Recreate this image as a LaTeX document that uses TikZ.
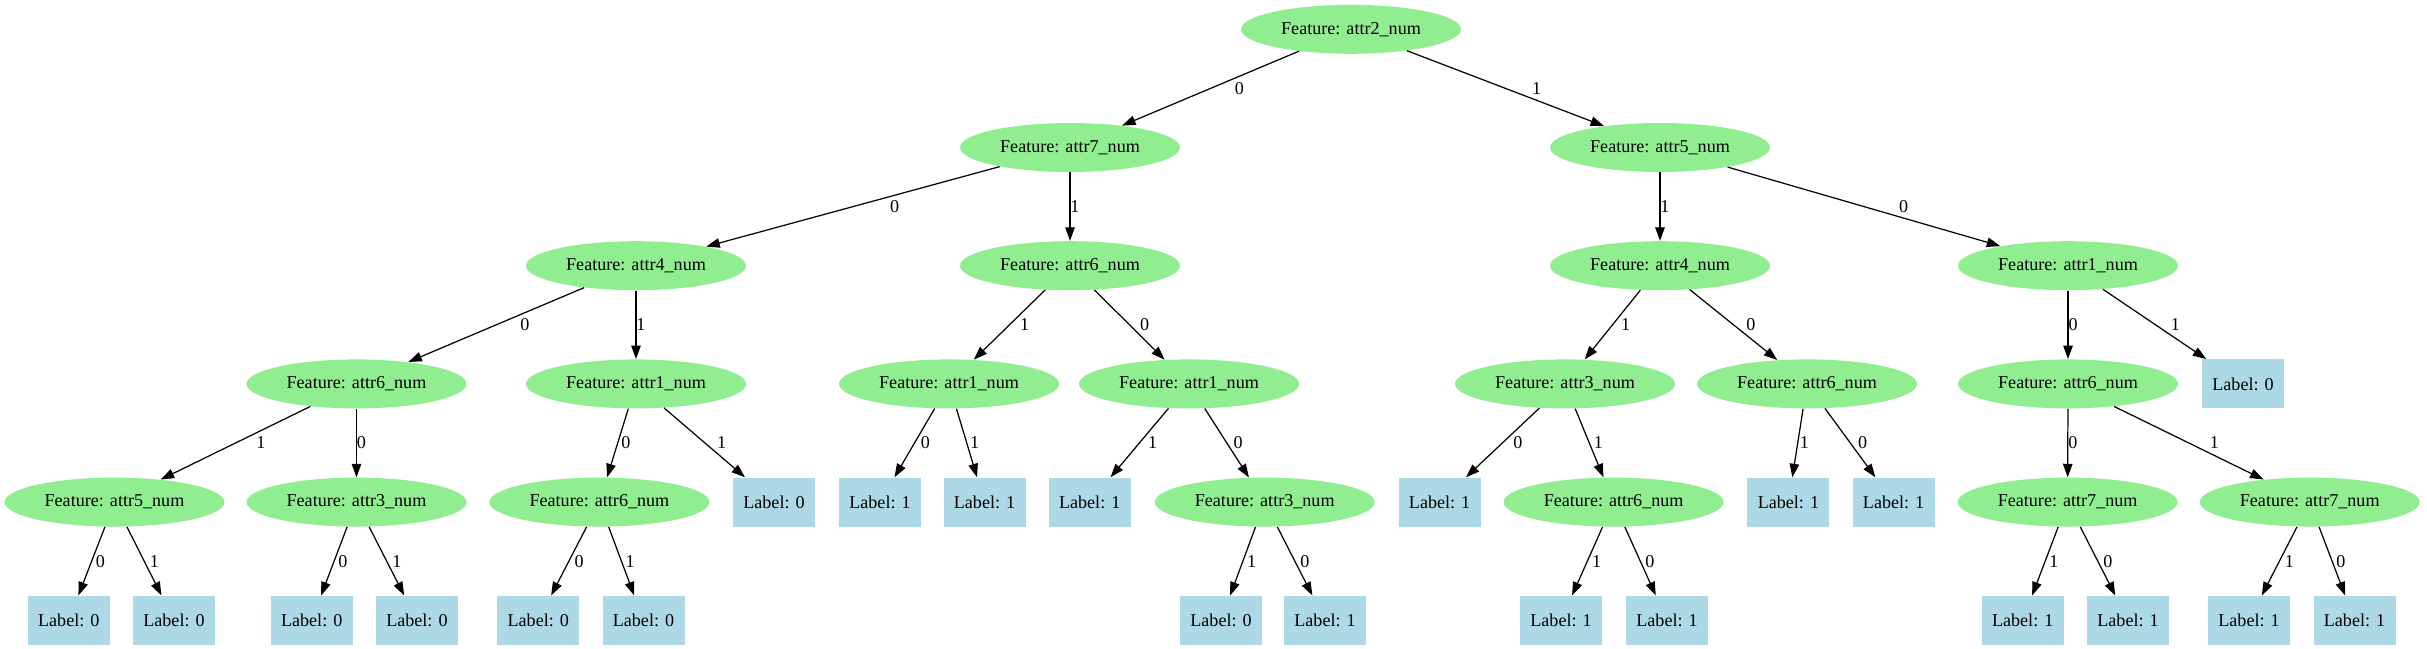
\documentclass[tikz,border=0pt]{standalone}
\usepackage{fontspec}
\setmainfont{Liberation Serif}
\usetikzlibrary{calc,arrows.meta,shapes.geometric}
\definecolor{featgreen}{HTML}{90EE90}
\definecolor{leafblue}{HTML}{ADD8E6}
\def\branch(#1)(#2)#3{\draw[edge] (#1) -- (#2); \path let \p1=(#1), \p2=(#2), \n1={abs(\x2-\x1)/abs(\y2-\y1)} in node[lbl] at ({0.5*\x1+0.5*\x2+\n1*0.2cm+0.1cm}, {0.5*\y1+0.5*\y2}) {#3};}

\begin{document}
\begin{tikzpicture}[x=0.02cm, y=-0.02cm,
	feat/.style={ellipse, fill=featgreen, minimum width=4.4cm, minimum height=0.98cm, inner sep=0pt, font=\fontsize{10.3}{12}\selectfont},
	leaf/.style={rectangle, fill=leafblue, minimum width=1.64cm, minimum height=0.98cm, inner sep=0pt, font=\fontsize{10.3}{12}\selectfont},
	lbl/.style={inner sep=0pt, font=\fontsize{10.3}{12}\selectfont},
	edge/.style={line width=0.7pt, -{Triangle[length=0.27cm, width=0.19cm]}}]
			%%%%% START %%%%%
			\useasboundingbox (0,0) rectangle (2427,649);
			
			\node[feat] (r) at (1351, 29.3) {Feature: attr2\_num};
			
			\node[feat] (n0) at (1070, 147.5) {Feature: attr7\_num};
			\node[feat] (n1) at (1660, 147.5) {Feature: attr5\_num};
			
			\node[feat] (n00) at (636, 265.7) {Feature: attr4\_num};
			\node[feat] (n01) at (1070, 265.7) {Feature: attr6\_num};
			\node[feat] (n11) at (1660, 265.7) {Feature: attr4\_num};
			\node[feat] (n10) at (2068, 265.7) {Feature: attr1\_num};
			
			\node[feat] (n000) at (356.5, 383.9) {Feature: attr6\_num};
			\node[feat] (n001) at (636, 383.9) {Feature: attr1\_num};
			\node[feat] (n011) at (949, 383.9) {Feature: attr1\_num};
			\node[feat] (n010) at (1189, 383.9) {Feature: attr1\_num};
			\node[feat] (n111) at (1565, 383.9) {Feature: attr3\_num};
			\node[feat] (n110) at (1807, 383.9) {Feature: attr6\_num};
			\node[feat] (n100) at (2068, 383.9) {Feature: attr6\_num};
			\node[leaf] (n101) at (2243, 383.9) {Label: 0};
			
			\node[feat] (n0001) at (114.5, 502.1) {Feature: attr5\_num};
			\node[feat] (n0000) at (356.5, 502.1) {Feature: attr3\_num};
			\node[feat] (n0010) at (599.4, 502.1) {Feature: attr6\_num};
			\node[leaf] (n0011) at (774, 502.1) {Label: 0};
			\node[leaf] (n0110) at (880, 502.1) {Label: 1};
			\node[leaf] (n0111) at (984.5, 502.1) {Label: 1};
			\node[leaf] (n0101) at (1089.7, 502.1) {Label: 1};
			\node[feat] (n0100) at (1264.7, 502.1) {Feature: attr3\_num};
			\node[leaf] (n1110) at (1439.6, 502.1) {Label: 1};
			\node[feat] (n1111) at (1613.6, 502.1) {Feature: attr6\_num};
			\node[leaf] (n1101) at (1788.4, 502.1) {Label: 1};
			\node[leaf] (n1100) at (1893.6, 502.1) {Label: 1};
			\node[feat] (n1000) at (2067.6, 502.1) {Feature: attr7\_num};
			\node[feat] (n1001) at (2309.7, 502.1) {Feature: attr7\_num};
			
			\node[leaf] (n00010) at (68.8, 620.3) {Label: 0};
			\node[leaf] (n00011) at (174, 620.3) {Label: 0};
			\node[leaf] (n00000) at (311.7, 620.3) {Label: 0};
			\node[leaf] (n00001) at (416.9, 620.3) {Label: 0};
			\node[leaf] (n00100) at (538.3, 620.3) {Label: 0};
			\node[leaf] (n00101) at (643.5, 620.3) {Label: 0};
			\node[leaf] (n01001) at (1221, 620.3) {Label: 0};
			\node[leaf] (n01000) at (1325, 620.3) {Label: 1};
			\node[leaf] (n11111) at (1561, 620.3) {Label: 1};
			\node[leaf] (n11110) at (1667, 620.3) {Label: 1};
			\node[leaf] (n10001) at (2022.7, 620.3) {Label: 1};
			\node[leaf] (n10000) at (2128, 620.3) {Label: 1};
			\node[leaf] (n10011) at (2249, 620.3) {Label: 1};
			\node[leaf] (n10010) at (2354.5, 620.3) {Label: 1};
			
			\branch(r)(n0){0}
			\branch(r)(n1){1}
			\branch(n0)(n00){0}
			\branch(n0)(n01){1}
			\branch(n1)(n11){1}
			\branch(n1)(n10){0}
			
			\branch(n00)(n000){0}
			\branch(n00)(n001){1}
			\branch(n01)(n011){1}
			\branch(n01)(n010){0}
			\branch(n11)(n111){1}
			\branch(n11)(n110){0}
			\branch(n10)(n100){0}
			\branch(n10)(n101){1}
			
			\branch(n000)(n0001){1}
			\branch(n000)(n0000){0}
			\branch(n001)(n0010){0}
			\branch(n001)(n0011){1}
			\branch(n011)(n0110){0}
			\branch(n011)(n0111){1}
			\branch(n010)(n0101){1}
			\branch(n010)(n0100){0}
			\branch(n111)(n1110){0}
			\branch(n111)(n1111){1}
			\branch(n110)(n1101){1}
			\branch(n110)(n1100){0}
			\branch(n100)(n1000){0}
			\branch(n100)(n1001){1}
			
			\branch(n0001)(n00010){0}
			\branch(n0001)(n00011){1}
			\branch(n0000)(n00000){0}
			\branch(n0000)(n00001){1}
			\branch(n0010)(n00100){0}
			\branch(n0010)(n00101){1}
			\branch(n0100)(n01001){1}
			\branch(n0100)(n01000){0}
			\branch(n1111)(n11111){1}
			\branch(n1111)(n11110){0}
			\branch(n1000)(n10001){1}
			\branch(n1000)(n10000){0}
			\branch(n1001)(n10011){1}
			\branch(n1001)(n10010){0}
			%%%%% END %%%%%
\end{tikzpicture}
\end{document}
